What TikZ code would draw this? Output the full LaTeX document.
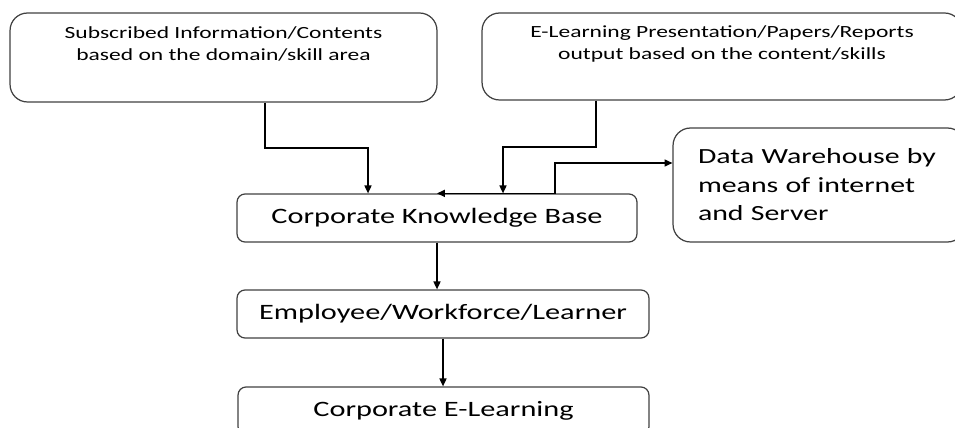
\documentclass[tikz,border=0pt]{standalone}
\usepackage{fontspec}
\setmainfont[FakeStretch=1.38]{Carlito}
\usetikzlibrary{arrows.meta}

\tikzset{
  infobox/.style={draw=black!75, line width=0.7pt, rounded corners=0.35cm,
    font=\fontsize{9.7}{12.5}\selectfont, align=center, inner sep=0pt},
  stagebox/.style={draw=black!75, line width=0.7pt, rounded corners=0.16cm,
    font=\fontsize{12.5}{15}\selectfont, minimum height=0.96cm, inner sep=0pt},
  link/.style={-{Triangle[length=4.5pt,width=4pt]}, line width=0.8pt}
}

\begin{document}
\begin{tikzpicture}[x=0.02cm, y=-0.02cm]
  \useasboundingbox (0,0) rectangle (955,428);
  \clip (0,0) rectangle (955,428);

  % source boxes
  \node[infobox, minimum width=8.54cm, minimum height=1.78cm] (sub) at (223.5,57.5)
    {Subscribed Information/Contents\\based on the domain/skill area\\\strut};
  \node[infobox, minimum width=9.6cm, minimum height=1.74cm] (pres) at (722,56.5)
    {E-Learning Presentation/Papers/Reports\\output based on the content/skills\\\strut};
  \node[infobox, minimum width=5.84cm, minimum height=2.28cm, text width=4.84cm,
    inner xsep=0.5cm, align=left, font=\fontsize{12.3}{16.2}\selectfont] (dw) at (819,185)
    {Data Warehouse by\\means of internet\\and Server};

  % main chain
  \node[stagebox, minimum width=8cm] (kb) at (437,218) {Corporate Knowledge Base};
  \node[stagebox, minimum width=8.24cm] (emp) at (443,314) {Employee/Workforce/Learner};
  \node[stagebox, minimum width=8.22cm] (cel) at (443.5,411) {Corporate E-Learning};

  \coordinate (subdrop) at (265,148);
  \coordinate (subin) at (368,148);
  \coordinate (presdrop) at (596,147);
  \coordinate (presin) at (503,147);
  \coordinate (dwtap) at (555,163);

  \draw[link] (sub.south -| subdrop) -- (subdrop) -- (subin) -- (subin |- kb.north);
  \draw[link] (pres.south -| presdrop) -- (presdrop) -- (presin) -- (presin |- kb.north);
  \draw[link, {Triangle[length=4.5pt,width=4pt]}-{Triangle[length=4.5pt,width=4pt]}]
    (kb.north) -- (kb.north -| dwtap) -- (dwtap) -- (dwtap -| dw.west);
  \draw[link] (kb.south) -- (kb.south |- emp.north);
  \draw[link] (emp.south) -- (emp.south |- cel.north);
\end{tikzpicture}
\end{document}
